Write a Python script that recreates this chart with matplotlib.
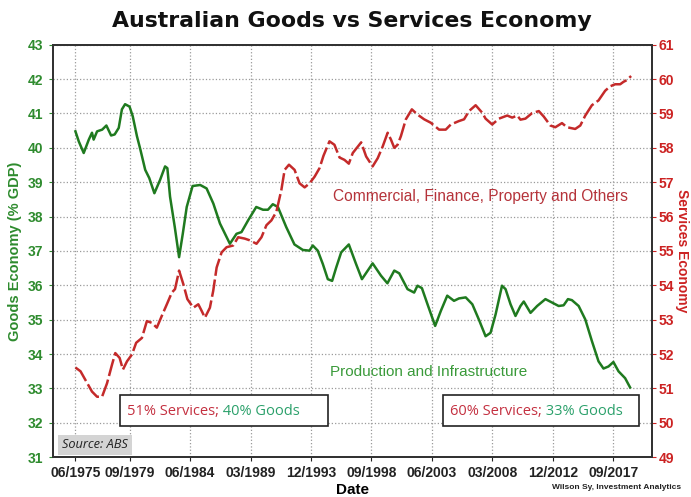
import matplotlib
matplotlib.use("Agg")
import matplotlib.pyplot as plt

# Goods economy (% GDP), left axis
goods_t = [1975.5, 1975.76, 1976.15, 1976.55, 1976.8, 1976.93, 1977.2, 1977.6, 1977.93, 1978.3,
           1978.58, 1978.9, 1979.15, 1979.4, 1979.75, 1980.0, 1980.33, 1980.6, 1980.98, 1981.3,
           1981.7, 1982.15, 1982.54, 1982.72, 1982.93, 1983.3, 1983.64, 1983.93, 1984.24, 1984.7,
           1985.3, 1985.8, 1986.33, 1986.85, 1987.63, 1988.15, 1988.54, 1989.06, 1989.7, 1990.23,
           1990.62, 1991.0, 1991.4, 1992.05, 1992.7, 1993.36, 1993.88, 1994.14, 1994.53, 1994.93,
           1995.32, 1995.66, 1995.98, 1996.37, 1996.97, 1997.54, 1998.0, 1998.84, 1999.5, 2000.0,
           2000.54, 2000.93, 2001.58, 2002.1, 2002.36, 2002.71, 2003.15, 2003.75, 2004.2, 2004.7,
           2005.23, 2005.62, 2006.15, 2006.67, 2007.19, 2007.71, 2008.1, 2008.5, 2009.0, 2009.28,
           2009.67, 2010.06, 2010.45, 2010.71, 2011.24, 2011.76, 2012.41, 2012.93, 2013.45, 2013.84,
           2014.18, 2014.49, 2015.02, 2015.54, 2016.06, 2016.58, 2016.97, 2017.36, 2017.75, 2018.15,
           2018.67, 2019.06]
goods = [40.48, 40.19, 39.85, 40.24, 40.44, 40.24, 40.48, 40.53, 40.65, 40.36,
         40.39, 40.58, 41.12, 41.27, 41.2, 40.92, 40.34, 39.95, 39.36, 39.12,
         38.68, 39.07, 39.46, 39.41, 38.58, 37.7, 36.82, 37.5, 38.28, 38.89,
         38.92, 38.82, 38.38, 37.8, 37.21, 37.5, 37.55, 37.89, 38.28, 38.2,
         38.2, 38.36, 38.28, 37.7, 37.19, 37.03, 37.01, 37.16, 37.01, 36.62,
         36.18, 36.13, 36.52, 36.96, 37.19, 36.62, 36.18, 36.64, 36.28, 36.06,
         36.43, 36.35, 35.89, 35.79, 35.99, 35.92, 35.45, 34.82, 35.26, 35.7,
         35.55, 35.62, 35.65, 35.45, 35.0, 34.52, 34.62, 35.16, 35.99, 35.89,
         35.45, 35.11, 35.4, 35.53, 35.2, 35.4, 35.6, 35.5, 35.4, 35.42,
         35.6, 35.57, 35.4, 35.01, 34.38, 33.79, 33.58, 33.64, 33.77, 33.5,
         33.3, 33.03]

# Services economy (% GDP), right axis
serv_t = [1975.5, 1975.9, 1976.28, 1976.8, 1977.2, 1977.59, 1977.98, 1978.37, 1978.63, 1978.97,
          1979.23, 1979.55, 1979.94, 1980.27, 1980.72, 1981.11, 1981.5, 1981.89, 1982.28, 1982.68,
          1983.07, 1983.32, 1983.64, 1983.97, 1984.29, 1984.76, 1985.15, 1985.41, 1985.67, 1986.06,
          1986.32, 1986.59, 1986.98, 1987.37, 1987.89, 1988.28, 1988.8, 1989.19, 1989.72, 1990.11,
          1990.5, 1990.89, 1991.28, 1991.67, 1991.93, 1992.27, 1992.71, 1993.1, 1993.5, 1993.89,
          1994.28, 1994.67, 1994.98, 1995.45, 1995.84, 1996.24, 1996.63, 1996.97, 1997.28, 1997.94,
          1998.33, 1998.84, 1999.24, 1999.63, 2000.02, 2000.28, 2000.54, 2000.8, 2001.06, 2001.45,
          2001.92, 2002.36, 2002.89, 2003.41, 2004.06, 2004.58, 2004.98, 2005.62, 2006.02, 2006.41,
          2006.93, 2007.45, 2007.71, 2008.23, 2008.76, 2009.41, 2009.8, 2010.2, 2010.45, 2010.84,
          2011.36, 2011.89, 2012.28, 2012.8, 2013.19, 2013.71, 2014.1, 2014.75, 2015.15, 2015.54,
          2016.06, 2016.58, 2017.1, 2017.49, 2017.89, 2018.28, 2018.54, 2018.8, 2019.14]
services = [51.61, 51.5, 51.25, 50.91, 50.76, 50.76, 51.15, 51.69, 52.03, 51.89,
            51.55, 51.79, 51.99, 52.33, 52.47, 52.96, 52.91, 52.77, 53.11, 53.45,
            53.79, 53.89, 54.43, 54.04, 53.6, 53.35, 53.45, 53.26, 53.06, 53.35,
            53.84, 54.52, 54.96, 55.11, 55.16, 55.4, 55.36, 55.31, 55.21, 55.4,
            55.75, 55.89, 56.14, 56.77, 57.36, 57.51, 57.36, 56.97, 56.85, 56.97,
            57.16, 57.41, 57.77, 58.19, 58.09, 57.72, 57.65, 57.54, 57.85, 58.16,
            57.75, 57.46, 57.7, 58.04, 58.44, 58.24, 58.0, 58.09, 58.34, 58.83,
            59.12, 58.97, 58.83, 58.73, 58.53, 58.53, 58.68, 58.78, 58.83, 59.07,
            59.24, 59.02, 58.85, 58.68, 58.85, 58.94, 58.88, 58.94, 58.82, 58.85,
            59.01, 59.07, 58.91, 58.65, 58.6, 58.72, 58.6, 58.55, 58.65, 58.94,
            59.24, 59.38, 59.66, 59.79, 59.85, 59.85, 59.92, 59.97, 60.09]

tick_pos = [1975.5, 1979.75, 1984.5, 1989.25, 1994.0, 1998.75, 2003.5, 2008.25, 2013.0, 2017.75]
tick_labels = ["06/1975", "09/1979", "06/1984", "03/1989", "12/1993",
               "09/1998", "06/2003", "03/2008", "12/2012", "09/2017"]

GREEN = "#1f7a1f"
RED = "#c42a2a"
LABEL_GREEN = "#2e8b2e"
TEXT_GREEN = "#3a9a3a"
BOX_GREEN = "#2aa06a"
TEXT_RED = "#b5333a"

fig = plt.figure(figsize=(6.91, 4.97), dpi=100)
ax = fig.add_axes([0.076, 0.08, 0.867, 0.83])
ax2 = ax.twinx()

ax.plot(goods_t, goods, color=GREEN, lw=1.8, zorder=3)
ax2.plot(serv_t, services, color=RED, lw=1.8, linestyle=(0, (7, 1.5)), zorder=3)

ax.set_xlim(1973.7, 2020.75)
ax.set_ylim(31, 43)
ax2.set_ylim(49, 61)
ax.set_yticks(range(31, 44))
ax2.set_yticks(range(49, 62))
ax.set_xticks(tick_pos)
ax.set_xticklabels(tick_labels)

ax.grid(True, linestyle=":", color="#9a9a9a", lw=0.9)
for a in (ax, ax2):
    for s in a.spines.values():
        s.set_color("#333333")
        s.set_linewidth(1.4)
    a.tick_params(length=3, width=0.8)

ax.tick_params(axis="y", colors=LABEL_GREEN, labelsize=10)
ax2.tick_params(axis="y", colors="#cc2222", labelsize=10, pad=2)
ax.tick_params(axis="x", colors="#222222", labelsize=10)
for lab in ax.get_yticklabels() + ax2.get_yticklabels() + ax.get_xticklabels():
    lab.set_fontweight("bold")
    lab.set_family("Liberation Sans")

ax.set_ylabel("Goods Economy (% GDP)", color=LABEL_GREEN, fontsize=10.5,
              fontweight="bold", family="Liberation Sans", labelpad=4)
ax2.set_ylabel("Services Economy", color="#cc2222", fontsize=10, fontweight="bold",
               family="Liberation Sans", rotation=270, labelpad=11)
ax.set_xlabel("Date", fontsize=11, fontweight="bold", family="Liberation Sans", labelpad=2)

fig.suptitle("Australian Goods vs Services Economy", x=0.509, y=0.978,
             fontsize=15.8, fontweight="bold", family="DejaVu Sans", color="#111111")

ax.text(0.715, 0.631, "Commercial, Finance, Property and Others", transform=ax.transAxes,
        ha="center", va="center", color=TEXT_RED, fontsize=11.2, family="Liberation Sans")
ax.text(0.627, 0.207, "Production and Infrastructure", transform=ax.transAxes,
        ha="center", va="center", color=TEXT_GREEN, fontsize=11, family="Liberation Sans")

# annotation boxes
for x0, w, svc, gds in [(0.113, 0.346, "51% Services;", " 40% Goods"),
                        (0.651, 0.328, "60% Services;", " 33% Goods")]:
    box = plt.Rectangle((x0, 0.075), w, 0.075, transform=ax.transAxes,
                        fill=True, facecolor="white", edgecolor="#222222", lw=1.2, zorder=4)
    ax.add_patch(box)
    t1 = ax.text(x0 + 0.012, 0.112, svc, transform=ax.transAxes, ha="left", va="center",
                 color="#c43040", fontsize=10.5, family="Open Sans", zorder=5)
    fig.canvas.draw()
    bb = t1.get_window_extent().transformed(ax.transAxes.inverted())
    ax.text(bb.x1, 0.112, gds, transform=ax.transAxes, ha="left", va="center",
            color=BOX_GREEN, fontsize=10.5, family="Open Sans", zorder=5)

ax.text(0.016, 0.03, "Source: ABS", transform=ax.transAxes, ha="left", va="center",
        fontsize=9.2, style="italic", family="Open Sans", color="#222222", zorder=5,
        bbox=dict(boxstyle="square,pad=0.3", facecolor="#d4d4d4", edgecolor="none"))

fig.text(0.985, 0.012, "Wilson Sy, Investment Analytics", ha="right", va="bottom",
         fontsize=6, fontweight="bold", family="Liberation Sans", color="#222222")

fig.savefig("out.png", dpi=100)
